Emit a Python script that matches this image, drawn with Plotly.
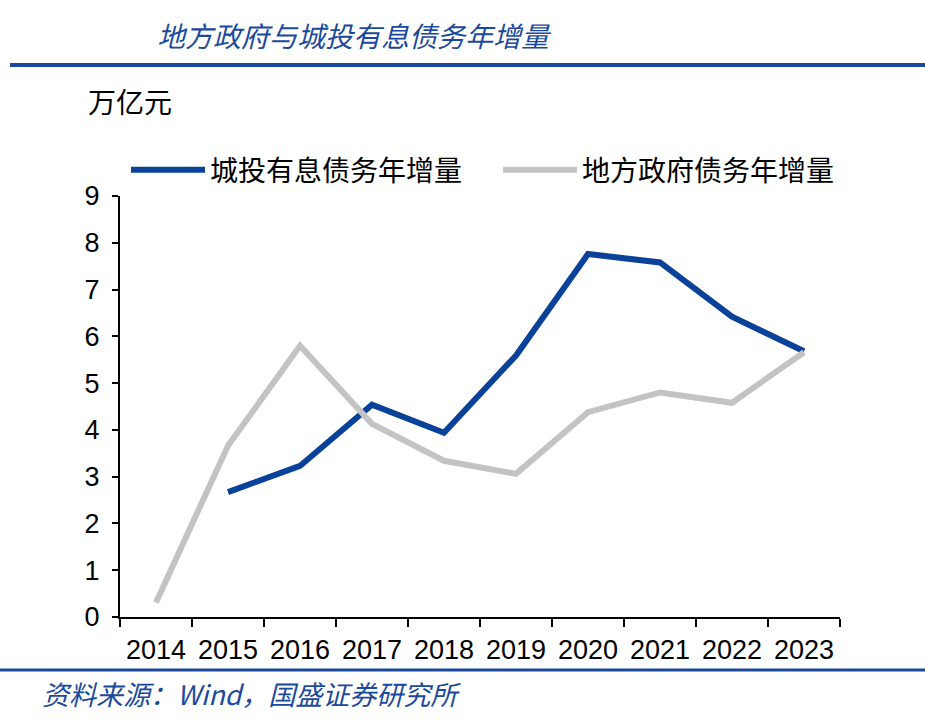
import plotly.graph_objects as go

years = ["2014", "2015", "2016", "2017", "2018", "2019", "2020", "2021", "2022", "2023"]
chengtou = [None, 2.67, 3.23, 4.54, 3.94, 5.59, 7.76, 7.58, 6.42, 5.68]
local_gov = [0.31, 3.66, 5.80, 4.13, 3.34, 3.06, 4.38, 4.80, 4.58, 5.66]
name_ct = "城投有息债务年增量"
name_lg = "地方政府债务年增量"
y_ticks = list(range(0, 10))

BLUE = "#0A4199"
GREY = "#C3C3C3"
TBLUE = "#1B4A9C"
CJK = "Noto Sans CJK SC"
NUM = "Liberation Sans, Arial"

W, H = 925, 728
L, R, T, B = 120, 85, 196, 111
pw, ph = W - L - R, H - T - B


def px(x):
    return (x - L) / pw


def py(y):
    return (H - B - y) / ph


fig = go.Figure()
fig.add_trace(go.Scatter(x=years, y=chengtou, mode="lines", name=name_ct,
                         line=dict(color=BLUE, width=6), connectgaps=False,
                         legend="legend"))
fig.add_trace(go.Scatter(x=years, y=local_gov, mode="lines", name=name_lg,
                         line=dict(color=GREY, width=6), legend="legend2"))

leg_common = dict(orientation="h", yanchor="middle", xanchor="left",
                  font=dict(family=CJK, size=28, color="black"),
                  itemwidth=74, bgcolor="rgba(0,0,0,0)")

fig.update_layout(
    width=W, height=H,
    margin=dict(l=L, r=R, t=T, b=B, pad=0, autoexpand=False),
    paper_bgcolor="white", plot_bgcolor="white",
    showlegend=True,
    legend=dict(x=px(126), y=py(170), **leg_common),
    legend2=dict(x=px(498), y=py(170), **leg_common),
    xaxis=dict(type="category", range=[-0.5, 9.5], tickson="boundaries",
               showline=True, linecolor="black", linewidth=2,
               ticks="outside", ticklen=8, tickwidth=2, tickcolor="black",
               showgrid=False, zeroline=False,
               tickfont=dict(family=NUM, size=27, color="black"),
               ticklabelstandoff=8),
    yaxis=dict(range=[0, 9], tickvals=y_ticks,
               showline=True, linecolor="black", linewidth=2,
               ticks="outside", ticklen=6, tickwidth=2, tickcolor="black",
               showgrid=False, zeroline=False,
               tickfont=dict(family=NUM, size=27, color="black"),
               ticklabelstandoff=7),
)

fig.add_annotation(text="<i>地方政府与城投有息债务年增量</i>", xref="paper", yref="paper",
                   x=px(155), y=py(35), xanchor="left", yanchor="middle", showarrow=False,
                   font=dict(family=CJK, size=28, color=TBLUE))
fig.add_annotation(text="万亿元", xref="paper", yref="paper",
                   x=px(86), y=py(101), xanchor="left", yanchor="middle", showarrow=False,
                   font=dict(family=CJK, size=28, color="black"))
fig.add_annotation(text="<i>资料来源：Wind，国盛证券研究所</i>", xref="paper", yref="paper",
                   x=px(40), y=py(693), xanchor="left", yanchor="middle", showarrow=False,
                   font=dict(family=CJK, size=27, color=TBLUE))

fig.add_shape(type="line", xref="paper", yref="paper", x0=px(10), x1=px(925),
              y0=py(65), y1=py(65), line=dict(color=TBLUE, width=4))
fig.add_shape(type="line", xref="paper", yref="paper", x0=px(0), x1=px(925),
              y0=py(670), y1=py(670), line=dict(color=TBLUE, width=3))

fig.write_html("out.html", config={"displayModeBar": False},
               post_script="document.body.style.margin='0';")
